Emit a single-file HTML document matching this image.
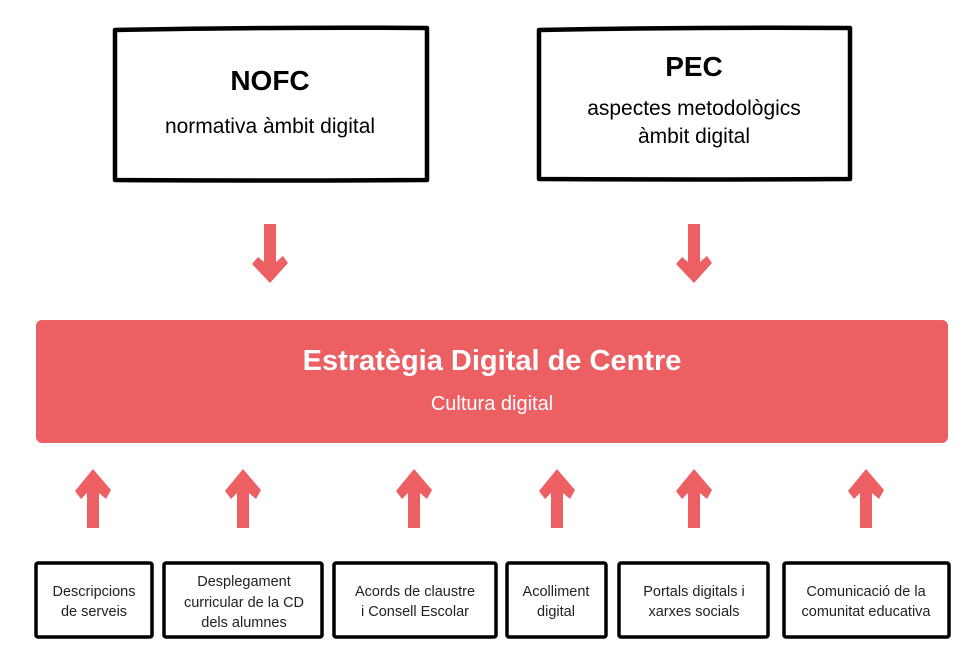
<!DOCTYPE html>
<html><head><meta charset="utf-8"><style>
html,body{margin:0;padding:0;background:#fff;}
svg{display:block;}
text{font-family:"Liberation Sans",Arial,sans-serif;}
</style></head><body>
<svg width="970" height="655" viewBox="0 0 970 655" xmlns="http://www.w3.org/2000/svg">
<defs>
<g id="down"><polygon points="-6,0 6,0 6,38 13,32 18,39 0,59 -18,40 -12,33 -6,38" fill="#ec6063"/></g>
<g id="up"><polygon points="-6,59 6,59 6,24 13,30 18,21 0,0 -18,22 -12,30 -6,24" fill="#ec6063"/></g>
</defs>
<g fill="#fff" stroke="#000" stroke-width="4.5" stroke-linejoin="round">
<path d="M115,30 Q270,27 427,28 L427,180 Q270,181 115,180 Z"/>
<path d="M539,30 Q700,27 850,28 L850,179 Q700,180 539,179 Z"/>
</g>
<text x="270" y="90" font-size="28" font-weight="bold" text-anchor="middle">NOFC</text>
<text x="270" y="133" font-size="21" text-anchor="middle">normativa àmbit digital</text>
<text x="694" y="76" font-size="28" font-weight="bold" text-anchor="middle">PEC</text>
<text x="694" y="115" font-size="21" text-anchor="middle">aspectes metodològics</text>
<text x="694" y="143" font-size="21" text-anchor="middle">àmbit digital</text>
<use href="#down" x="270" y="224"/>
<use href="#down" x="694" y="224"/>
<rect x="36" y="320" width="912" height="123" rx="6" fill="#ec6063"/>
<text x="492" y="370" font-size="29" font-weight="bold" fill="#fff" text-anchor="middle">Estratègia Digital de Centre</text>
<text x="492" y="410" font-size="20" fill="#fff" text-anchor="middle">Cultura digital</text>
<use href="#up" x="93" y="469"/>
<use href="#up" x="243" y="469"/>
<use href="#up" x="414" y="469"/>
<use href="#up" x="557" y="469"/>
<use href="#up" x="694" y="469"/>
<use href="#up" x="866" y="469"/>
<g fill="#fff" stroke="#000" stroke-width="3.5" stroke-linejoin="round">
<rect x="36" y="563" width="116" height="74" rx="2"/>
<rect x="164" y="563" width="158" height="74" rx="2"/>
<rect x="334" y="563" width="162" height="74" rx="2"/>
<rect x="507" y="563" width="99" height="74" rx="2"/>
<rect x="619" y="563" width="149" height="74" rx="2"/>
<rect x="784" y="563" width="165" height="74" rx="2"/>
</g>
<g font-size="14.5" text-anchor="middle" fill="#222">
<text x="94" y="596">Descripcions</text><text x="94" y="616">de serveis</text>
<text x="244" y="586">Desplegament</text><text x="244" y="607">curricular de la CD</text><text x="244" y="627">dels alumnes</text>
<text x="415" y="596">Acords de claustre</text><text x="415" y="616">i Consell Escolar</text>
<text x="556" y="596">Acolliment</text><text x="556" y="616">digital</text>
<text x="694" y="596">Portals digitals i</text><text x="694" y="616">xarxes socials</text>
<text x="866" y="596">Comunicació de la</text><text x="866" y="616">comunitat educativa</text>
</g>
</svg>
</body></html>
